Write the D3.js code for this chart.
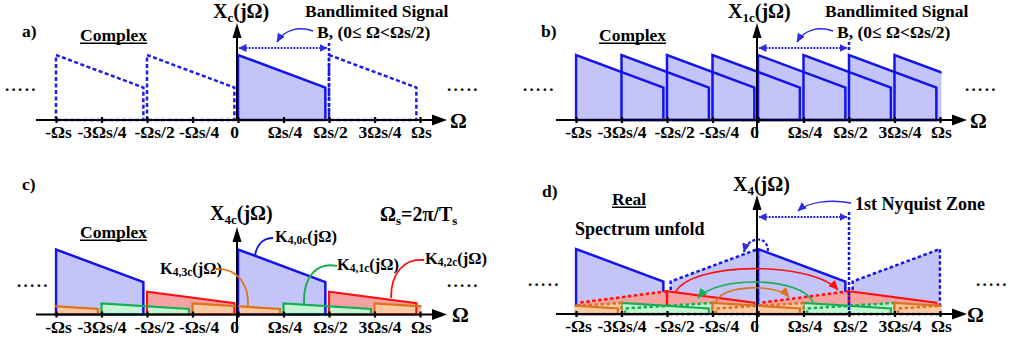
<!DOCTYPE html>
<html><head><meta charset="utf-8">
<script src="https://cdn.jsdelivr.net/npm/d3@7"></script>
<style>
body{margin:0;background:#fff}
svg text{font-family:"Liberation Serif","Times New Roman",serif;font-weight:bold;fill:#000}
</style>
</head><body>
<svg id="chart" width="1013" height="344"></svg>
<script>
// ---------------- data ----------------
const tickValues = [-1, -0.75, -0.5, -0.25, 0, 0.25, 0.5, 0.75, 1];
const tickLabels = ["-Ωs", "-3Ωs/4", "-Ωs/2", "-Ωs/4", "0", "Ωs/4", "Ωs/2", "3Ωs/4", "Ωs"];
const bandwidth = 0.48;          // B, as a fraction of Ωs
const edgeLevels = [1, 0.5];     // relative magnitude at Ω=0 and at Ω=B
const panelASolid = [0];
const panelADashed = [-1, -0.5, 0.5];
const panelBOffsets = [-1, -0.75, -0.5, -0.25, 0, 0.25, 0.5, 0.75];
const componentNames = ["4,0c", "4,1c", "4,2c", "4,3c"];
const componentGains = [1, 0.17, 0.35, 0.17];
const componentOffsets = [[-1, 0], [-0.75, 0.25], [-0.5, 0.5], [-1.25, -0.25, 0.75]];

// ---------------- styling / layout ----------------
const C = {
  blue:   {stroke: "#1414ea", fill: "#c3c5f8"},
  green:  {stroke: "#17ad52", fill: "#c5f5d3"},
  red:    {stroke: "#ff1010", fill: "#f5a2a2"},
  orange: {stroke: "#de721c", fill: "#fbc9a1"}
};
const compColors = [C.blue, C.green, C.red, C.orange];
const drawOrder = [0, 2, 1, 3];
const labelNudge = [2, 0, 7, 6, -4, 1, 1, 5, 1];
const FONT = '"Liberation Serif","Times New Roman",serif';
const TS = 17.5;

const svg = d3.select("#chart");
const defs = svg.append("defs");
function marker(id, color, w, h) {
  defs.append("marker").attr("id", id).attr("viewBox", `0 0 ${w} ${h}`)
    .attr("markerUnits", "userSpaceOnUse").attr("markerWidth", w).attr("markerHeight", h)
    .attr("refX", w - 0.5).attr("refY", h / 2).attr("orient", "auto-start-reverse")
    .append("path").attr("d", `M0,0 L${w},${h/2} L0,${h} Z`).attr("fill", color);
}
marker("mBlue", "#2a2ae8", 9, 8);
marker("mRed", C.red.stroke, 10, 9);
marker("mGreen", C.green.stroke, 10, 9);
marker("mOrange", C.orange.stroke, 10, 9);
marker("mDbl", "#2a2ae8", 8, 8);

const panels = {
  a: {x0: 56, x1: 420, base: 120, top: 23, below: 0, id: "a"},
  b: {x0: 576, x1: 940, base: 120, top: 23, below: 18, id: "b"},
  c: {x0: 56, x1: 420, base: 314.5, top: 227, below: 18, id: "c"},
  d: {x0: 576, x1: 940, base: 314, top: 195, below: 18, id: "d"}
};
function scales(p) {
  return {
    x: d3.scaleLinear().domain([-1, 1]).range([p.x0, p.x1]),
    y: d3.scaleLinear().domain([0, 1]).range([p.base, p.base - 65])
  };
}
function shapePts(offset, gain, mirror) {
  const [h0, h1] = edgeLevels;
  if (!mirror) return [[offset, 0], [offset, gain * h0], [offset + bandwidth, gain * h1], [offset + bandwidth, 0]];
  return [[-offset - bandwidth, 0], [-offset - bandwidth, gain * h1], [-offset, gain * h0], [-offset, 0]];
}
function pathOf(sc, pts) {
  return d3.line().x(d => sc.x(d[0])).y(d => sc.y(d[1]))(pts) + "Z";
}
function clipFor(p, sc) {
  const id = "clip" + p.id;
  defs.append("clipPath").attr("id", id).append("rect")
    .attr("x", sc.x(-1) - 1.5).attr("y", 0).attr("width", sc.x(1) - sc.x(-1) + 3).attr("height", p.base + 3);
  return `url(#${id})`;
}
function text(x, y, parts, anchor) {
  const t = svg.append("text").attr("x", x).attr("y", y).attr("text-anchor", anchor || "start")
    .attr("font-family", FONT).attr("font-weight", "bold");
  parts.forEach(pp => {
    t.append("tspan").attr("font-size", pp.s).attr("dy", pp.dy || 0).text(pp.t);
  });
  return t;
}
function underlined(x, y, str, size) {
  const t = text(x, y, [{t: str, s: size}]);
  const w = t.node().getComputedTextLength();
  svg.append("line").attr("x1", x).attr("x2", x + w).attr("y1", y + 2.2).attr("y2", y + 2.2)
    .attr("stroke", "#000").attr("stroke-width", 1.4);
}
function dots(x, y) {
  svg.append("text").attr("x", x).attr("y", y).attr("font-size", 17).attr("font-family", FONT)
    .attr("font-weight", "bold").attr("letter-spacing", 2.3).text(".....");
}
function drawAxes(p, sc) {
  const g = svg.append("g");
  const ax = d3.axisBottom(sc.x).tickValues(tickValues).tickFormat((d, i) => tickLabels[i])
    .tickSizeInner(0).tickSizeOuter(0).tickPadding(6);
  const ga = g.append("g").attr("transform", `translate(0,${p.base})`).call(ax)
    .attr("font-family", FONT).attr("font-size", TS);
  ga.select(".domain").remove();
  ga.selectAll(".tick line").attr("y1", -3).attr("y2", 3).attr("stroke", "#000").attr("stroke-width", 2.2);
  ga.selectAll(".tick text").attr("font-weight", "bold").attr("fill", "#000").attr("dx", (d, i) => labelNudge[i]);
  const xe = sc.x(1);
  g.append("line").attr("x1", sc.x(-1) - 20).attr("x2", xe + 14).attr("y1", p.base).attr("y2", p.base)
    .attr("stroke", "#000").attr("stroke-width", 2);
  g.append("path").attr("d", `M${xe + 27},${p.base} L${xe + 12},${p.base - 5.5} L${xe + 12},${p.base + 5.5} Z`).attr("fill", "#000");
  const x0 = sc.x(0) - 1;
  g.append("line").attr("x1", x0).attr("x2", x0).attr("y1", p.base + p.below).attr("y2", p.top + 13)
    .attr("stroke", "#000").attr("stroke-width", 2);
  g.append("path").attr("d", `M${x0},${p.top} L${x0 - 4.5},${p.top + 15} L${x0 + 4.5},${p.top + 15} Z`).attr("fill", "#000");
}
function dblArrow(sc, y, vTop, vBottom) {
  svg.append("line").attr("x1", sc.x(0) + 1).attr("x2", sc.x(0.5) - 2).attr("y1", y).attr("y2", y)
    .attr("stroke", "#2a2ae8").attr("stroke-width", 2.2).attr("stroke-dasharray", "2,1.2")
    .attr("marker-start", "url(#mDbl)").attr("marker-end", "url(#mDbl)");
  svg.append("line").attr("x1", sc.x(0.5)).attr("x2", sc.x(0.5)).attr("y1", vTop).attr("y2", vBottom)
    .attr("stroke", "#1414ea").attr("stroke-width", 2.5).attr("stroke-dasharray", "3,2");
}
function curve(d, color, mk, dash, w) {
  svg.append("path").attr("d", d).attr("fill", "none").attr("stroke", color).attr("stroke-width", w || 1.6)
    .attr("stroke-dasharray", dash || null).attr("marker-end", mk ? `url(#${mk})` : null);
}

// ---------------- panel a ----------------
(function () {
  const p = panels.a, sc = scales(p);
  const g = svg.append("g");
  panelASolid.forEach(o => g.append("path").attr("d", pathOf(sc, shapePts(o, 1, false)))
    .attr("fill", C.blue.fill).attr("stroke", C.blue.stroke).attr("stroke-width", 2.5));
  panelADashed.forEach(o => g.append("path").attr("d", pathOf(sc, shapePts(o, 1, false)))
    .attr("fill", "none").attr("stroke", "#1c1cf0").attr("stroke-width", 2.5).attr("stroke-dasharray", "4,2.5"));
  dblArrow(sc, 48, 43, p.base);
  drawAxes(p, sc);
  text(22, 37, [{t: "a)", s: TS}]);
  underlined(80, 41, "Complex", TS);
  text(213, 18, [{t: "X", s: 20}, {t: "c", s: 13, dy: 4}, {t: "(jΩ)", s: 20, dy: -4}]);
  text(305, 17, [{t: "Bandlimited Signal", s: TS}]);
  text(317, 37.5, [{t: "B, (0≤ Ω<Ωs/2)", s: TS}]);
  curve("M313,31 C298,26 284,30 277,42", "#2a2ae8", "mBlue", null, 1.5);
  text(450, 128, [{t: "Ω", s: 21}]);
  dots(5, 91); dots(447, 91);
})();

// ---------------- panel b ----------------
(function () {
  const p = panels.b, sc = scales(p);
  const g = svg.append("g").attr("clip-path", clipFor(p, sc));
  panelBOffsets.forEach(o => g.append("path").attr("d", pathOf(sc, shapePts(o, 1, false)))
    .attr("fill", C.blue.fill).attr("stroke", "none"));
  panelBOffsets.forEach(o => g.append("path").attr("d", pathOf(sc, shapePts(o, 1, false)))
    .attr("fill", "none").attr("stroke", C.blue.stroke).attr("stroke-width", 2.5));
  dblArrow(sc, 48, 42, 52);
  drawAxes(p, sc);
  text(541, 37, [{t: "b)", s: TS}]);
  underlined(599, 41, "Complex", TS);
  text(728, 18, [{t: "X", s: 20}, {t: "1c", s: 13, dy: 4}, {t: "(jΩ)", s: 20, dy: -4}]);
  text(825, 17, [{t: "Bandlimited Signal", s: TS}]);
  text(837, 37.5, [{t: "B, (0≤ Ω<Ωs/2)", s: TS}]);
  curve("M833,31 C818,26 804,30 797,42", "#2a2ae8", "mBlue", null, 1.5);
  text(970, 128, [{t: "Ω", s: 21}]);
  dots(523, 91); dots(965, 91);
})();

// ---------------- panel c ----------------
(function () {
  const p = panels.c, sc = scales(p);
  const g = svg.append("g").attr("clip-path", clipFor(p, sc));
  drawOrder.forEach(k => componentOffsets[k].forEach(o =>
    g.append("path").attr("d", pathOf(sc, shapePts(o, componentGains[k], false))).attr("fill", compColors[k].fill)));
  drawOrder.forEach(k => componentOffsets[k].forEach(o =>
    g.append("path").attr("d", pathOf(sc, shapePts(o, componentGains[k], false))).attr("fill", "none")
      .attr("stroke", compColors[k].stroke).attr("stroke-width", k === 0 ? 2.5 : 2.2)));
  drawAxes(p, sc);
  text(22, 190, [{t: "c)", s: TS}]);
  underlined(80, 238, "Complex", TS);
  text(210, 220, [{t: "X", s: 20}, {t: "4c", s: 13, dy: 4}, {t: "(jΩ)", s: 20, dy: -4}]);
  text(380, 221, [{t: "Ω", s: 20}, {t: "s", s: 13, dy: 4}, {t: "=2π/T", s: 20, dy: -4}, {t: "s", s: 13, dy: 4}]);
  const lab = [[275, 242], [337, 270], [425, 264], [160, 274]];
  componentNames.forEach((n, k) => text(lab[k][0], lab[k][1], [{t: "K", s: 16.5}, {t: n, s: 11.5, dy: 2}, {t: "(jΩ)", s: 16.5, dy: -2}]));
  curve("M273,238 C263,238 257,245 255,255", C.blue.stroke, null, null, 1.8);
  curve("M337,266 C318,262 303,275 304,304", C.green.stroke, null, null, 1.8);
  curve("M424,260 C405,258 391,272 391,298", C.red.stroke, null, null, 1.8);
  curve("M216,269 C238,268 249,285 248,306", C.orange.stroke, null, null, 1.8);
  text(452, 322, [{t: "Ω", s: 21}]);
  dots(17, 287); dots(447, 287);
})();

// ---------------- panel d ----------------
(function () {
  const p = panels.d, sc = scales(p);
  const g = svg.append("g").attr("clip-path", clipFor(p, sc));
  drawOrder.forEach(k => {
    const col = compColors[k];
    componentOffsets[k].forEach(o => {
      g.append("path").attr("d", pathOf(sc, shapePts(o, componentGains[k], true))).attr("fill", col.fill);
      g.append("path").attr("d", pathOf(sc, shapePts(o, componentGains[k], false))).attr("fill", col.fill);
    });
    componentOffsets[k].forEach(o => {
      g.append("path").attr("d", pathOf(sc, shapePts(o, componentGains[k], true))).attr("fill", "none")
        .attr("stroke", col.stroke).attr("stroke-width", 2.5).attr("stroke-dasharray", "3.5,2.5");
      g.append("path").attr("d", pathOf(sc, shapePts(o, componentGains[k], false))).attr("fill", "none")
        .attr("stroke", col.stroke).attr("stroke-width", k === 0 ? 2.5 : 2.2);
    });
  });
  dblArrow(sc, 217, 212, p.base);
  drawAxes(p, sc);
  curve("M675,293 C690,261 812,261 838,290", C.red.stroke, "mRed", null, 1.6);
  curve("M813,302 C800,276 716,276 698,298", C.green.stroke, "mGreen", null, 1.6);
  curve("M716,302 C722,284 778,284 789,297", C.orange.stroke, "mOrange", null, 1.6);
  curve("M768,251 C768,235 748,236 744,252", "#1414ea", "mBlue", "3,2", 2.2);
  text(542, 197, [{t: "d)", s: TS}]);
  underlined(612, 205, "Real", TS);
  text(733, 191, [{t: "X", s: 20}, {t: "4", s: 13, dy: 4}, {t: "(jΩ)", s: 20, dy: -4}]);
  text(855, 210, [{t: "1st Nyquist Zone", s: 18}]);
  curve("M851,203 C830,199 808,202 798,211", "#2a2ae8", "mBlue", null, 1.5);
  text(575, 235, [{t: "Spectrum unfold", s: 18}]);
  text(967, 322, [{t: "Ω", s: 21}]);
  dots(528, 286); dots(976, 286);
})();
</script>
</body></html>
